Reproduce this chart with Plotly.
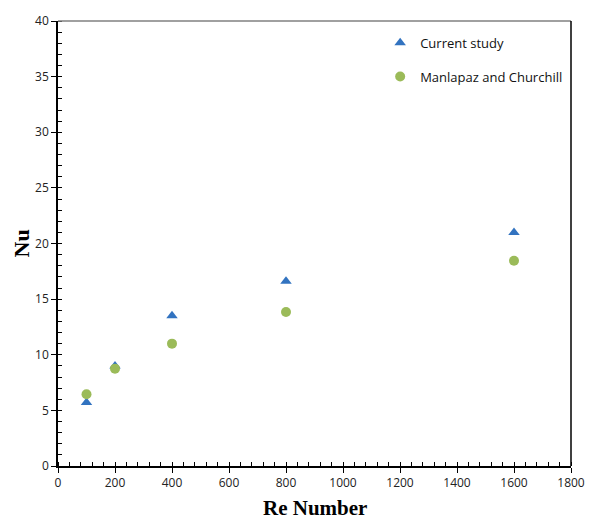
import plotly.graph_objects as go

re_values = [100, 200, 400, 800, 1600]
nu_current = [5.7, 9.0, 13.5, 16.6, 21.0]
nu_manlapaz = [6.45, 8.75, 11.0, 13.85, 18.45]

fig = go.Figure()
fig.add_trace(go.Scatter(x=re_values, y=nu_current, mode="markers", name="Current study",
                         legendgroup="a",
                         marker=dict(symbol="triangle-up", size=10, color="#3273c0")))
fig.add_trace(go.Scatter(x=re_values, y=nu_manlapaz, mode="markers", name="Manlapaz and Churchill",
                         legendgroup="b",
                         marker=dict(symbol="circle", size=10, color="#9bbb59")))

tickfont = dict(family="Open Sans, Liberation Sans, sans-serif", size=12, color="#222")
fig.update_layout(
    width=597, height=522,
    margin=dict(l=58, r=15, t=15, b=56),
    paper_bgcolor="white", plot_bgcolor="white",
    showlegend=True,
    legend=dict(x=0.628, y=0.985, xanchor="left", yanchor="top",
                font=dict(family="Open Sans, Liberation Sans, sans-serif", size=13, color="#111"),
                tracegroupgap=14, bgcolor="rgba(0,0,0,0)"),
    xaxis=dict(range=[0, 1800], dtick=200, tick0=0, showgrid=False, zeroline=False,
               showline=True, linecolor="black", linewidth=1.5,
               ticks="outside", ticklen=5, tickcolor="black", tickfont=tickfont,
               minor=dict(dtick=40, ticks="inside", ticklen=4, tickcolor="black")),
    yaxis=dict(range=[0, 40], dtick=5, tick0=0, showgrid=False, zeroline=False,
               showline=True, linecolor="black", linewidth=1.5,
               ticks="outside", ticklen=5, tickcolor="black", tickfont=tickfont,
               minor=dict(dtick=1, ticks="inside", ticklen=4, tickcolor="black")),
    shapes=[
        dict(type="line", xref="paper", yref="paper", x0=0, x1=1, y0=1, y1=1,
             line=dict(color="#808080", width=1.5)),
        dict(type="line", xref="paper", yref="paper", x0=1, x1=1, y0=0, y1=1,
             line=dict(color="black", width=1.5)),
    ],
    annotations=[
        dict(text="<b>Re Number</b>", xref="paper", yref="paper", x=0.5, y=0, yshift=-42,
             xanchor="center", yanchor="middle", showarrow=False,
             font=dict(family="Liberation Serif, serif", size=21, color="black")),
        dict(text="<b>Nu</b>", xref="paper", yref="paper", x=0, y=0.5, xshift=-37,
             xanchor="center", yanchor="middle", showarrow=False, textangle=-90,
             font=dict(family="Liberation Serif, serif", size=22, color="black")),
    ],
)

fig.write_html("out.html")
